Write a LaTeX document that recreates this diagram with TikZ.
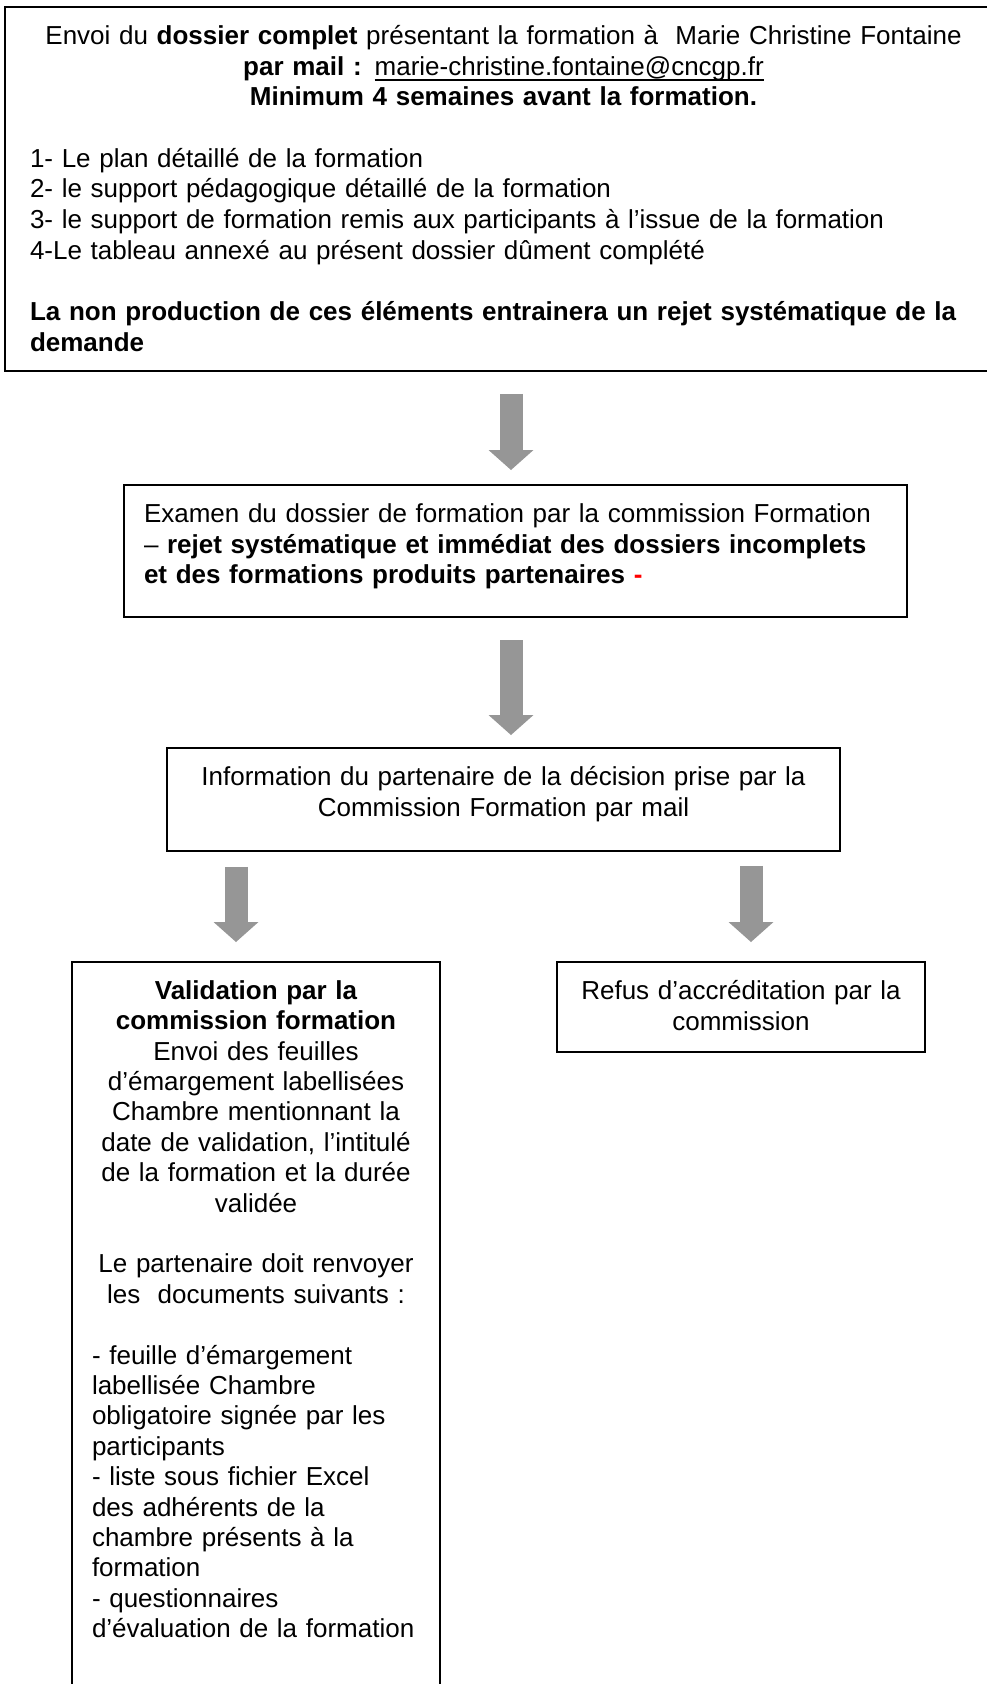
\documentclass[tikz,border=0pt]{standalone}
\usepackage{fontspec}
\setmainfont{Liberation Sans}
\usepackage{xcolor}
\usepackage{tikz}
\usetikzlibrary{positioning, arrows.meta}

\definecolor{arrowgray}{RGB}{150,150,150}
\newcommand{\boxfont}{\fontsize{19.5pt}{23pt}\selectfont}
\newcommand{\bottomgap}[1]{\rule[-#1]{0pt}{0pt}}
\newcommand{\mailline}[1]{\setbox0\hbox{#1}\rlap{\rule[-4.1pt]{\wd0}{1.1pt}}\box0}

\begin{document}
\begin{tikzpicture}[
  x=0.75pt, y=-0.75pt,
  every node/.style={font=\boxfont},
  box/.style={
    rectangle, draw=black, line width=1.2pt,
    inner xsep=15pt, inner ysep=12pt, outer sep=0pt,
    anchor=north west,
  },
  bigarrow/.style={
    draw=arrowgray, line width=17.25pt,
    -{Triangle[width=33.75pt, length=15pt, line width=0pt]},
  },
]
  \useasboundingbox (0,0) rectangle (987,1684);

  % boxes
  \node[box, inner xsep=3pt, text width=740.25pt, align=left] (dossier) at (5,7) {%
    {\centering\leftskip=15.75pt plus 1fil\rightskip=14.25pt plus 1fil
     \strut Envoi du \textbf{dossier complet} présentant la formation à~ Marie Christine Fontaine\\
     \textbf{par mail :} \mailline{marie-christine.fontaine@cncgp.fr}\\
     \textbf{Minimum 4 semaines avant la formation.}\\[23pt]}
    {\leftskip=15.75pt
     1- Le plan détaillé de la formation\\
     2- le support pédagogique détaillé de la formation\\
     3- le support de formation remis aux participants à l’issue de la formation\\
     4-Le tableau annexé au présent dossier dûment complété\\[23pt]
     \textbf{La non production de ces éléments entrainera un rejet systématique de la\\
     demande}\bottomgap{3pt}\par}};

  \node[box, text width=557.25pt, align=left] (exam) at (124,485) {%
    \strut Examen du dossier de formation par la commission Formation\\
    – \textbf{rejet systématique et immédiat des dossiers incomplets\\
    et des formations produits partenaires} \textcolor{red}{\textbf{-}}\bottomgap{12.9pt}};

  \node[box, text width=474.75pt, align=center] (inform) at (167,748) {%
    \strut Information du partenaire de la décision prise par la\\
    Commission Formation par mail\bottomgap{14.1pt}};

  \node[box, text width=246pt, align=left, font=\fontsize{19.5pt}{22.8pt}\selectfont] (valid) at (72,962) {%
    {\centering
     \strut\textbf{Validation par la\\ commission formation}\\
     Envoi des feuilles\\
     d’émargement labellisées\\
     Chambre mentionnant la\\
     date de validation, l’intitulé\\
     de la formation et la durée\\
     validée\\[22.8pt]
     Le partenaire doit renvoyer\\
     les~ documents suivants :\\[22.8pt]}
    - feuille d’émargement\\
    labellisée Chambre\\
    obligatoire signée par les\\
    participants\\
    - liste sous fichier Excel\\
    des adhérents de la\\
    chambre présents à la\\
    formation\\
    - questionnaires\\
    d’évaluation de la formation\bottomgap{45pt}};

  \node[box, text width=246pt, align=center] (refus) at (557,962) {%
    \strut Refus d’accréditation par la\\
    commission\bottomgap{4.4pt}};

  % arrows
  \coordinate (ax) at (511,0);
  \coordinate (al) at (236,0);
  \coordinate (ar) at (751,0);

  \draw[bigarrow, shorten <=17pt, shorten >=11.25pt] (dossier.south -| ax) -- (exam.north -| ax);
  \draw[bigarrow, shorten <=17.25pt, shorten >=9.75pt] (exam.south -| ax) -- (inform.north -| ax);
  \draw[bigarrow, shorten <=12pt, shorten >=15pt] (inform.south -| al) -- (valid.north -| al);
  \draw[bigarrow, shorten <=11.25pt, shorten >=15pt] (inform.south -| ar) -- (refus.north -| ar);
\end{tikzpicture}
\end{document}
